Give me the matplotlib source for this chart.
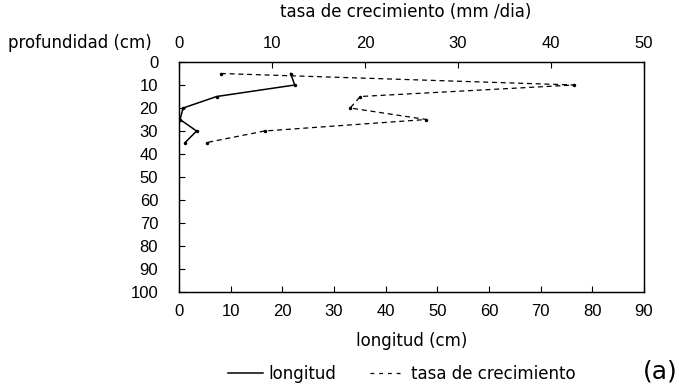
import matplotlib
matplotlib.use("Agg")
import matplotlib.pyplot as plt
from matplotlib.lines import Line2D

plt.rcParams['font.family'] = ['Liberation Sans', 'DejaVu Sans']
plt.rcParams['font.size'] = 12
WORDS = 'DejaVu Sans'

# root length per depth (bottom scale) and growth rate (top scale)
depth_long = [5, 10, 15, 20, 25, 30, 35]
longitud = [21.6, 22.4, 7.3, 0.8, 0.2, 3.4, 1.2]

depth_tasa = [5, 10, 15, 20, 25, 30, 35]
tasa = [4.5, 42.5, 19.5, 18.4, 26.6, 9.2, 3.0]

long_ticks = [0, 10, 20, 30, 40, 50, 60, 70, 80, 90]
tasa_ticks = [0, 10, 20, 30, 40, 50]
depth_ticks = [0, 10, 20, 30, 40, 50, 60, 70, 80, 90, 100]

fig = plt.figure(figsize=(6.79, 3.90), dpi=100)
ax = fig.add_axes([179 / 679, 1 - 292 / 390, 465 / 679, 230 / 390])

ax.plot(longitud, depth_long, color='black', lw=1.1, marker='.', ms=3)
ax.set_xlim(0, 90)
ax.set_ylim(100, 0)
ax.set_xticks(long_ticks)
ax.set_yticks(depth_ticks)
ax.tick_params(axis='x', direction='in', length=4, pad=9, width=0.8)
ax.tick_params(axis='y', direction='in', length=4, pad=15, width=0.8)
ax.set_xlabel('longitud (cm)', family=WORDS, labelpad=9)
for s in ax.spines.values():
    s.set_linewidth(0.9)

ax2 = ax.twiny()
ax2.plot(tasa, depth_tasa, color='black', lw=0.9, dashes=(4, 3), marker='.', ms=3)
ax2.set_xlim(0, 50)
ax2.set_xticks(tasa_ticks)
ax2.tick_params(axis='x', direction='in', length=4, pad=8, width=0.8)
for s in ax2.spines.values():
    s.set_linewidth(0.9)

fig.text(406 / 679, 1 - 12 / 390, 'tasa de crecimiento (mm /dia)', family=WORDS,
         ha='center', va='center')
fig.text(8 / 679, 1 - 43 / 390, 'profundidad (cm)', family=WORDS, ha='left', va='center')

handles = [Line2D([], [], color='black', lw=1.1),
           Line2D([], [], color='black', lw=0.9, dashes=(3, 4))]
fig.legend(handles, ['longitud', 'tasa de crecimiento'], loc='center left',
           bbox_to_anchor=(228 / 679, 1 - 374 / 390), ncol=2, frameon=False,
           borderpad=0, borderaxespad=0, handlelength=2.1, columnspacing=2.0,
           handletextpad=0.35, prop={'family': WORDS, 'size': 12})
fig.text(678 / 679, 1 - 372 / 390, '(a)', family=WORDS, ha='right', va='center',
         fontsize=18)

fig.savefig('out.png', dpi=100)
